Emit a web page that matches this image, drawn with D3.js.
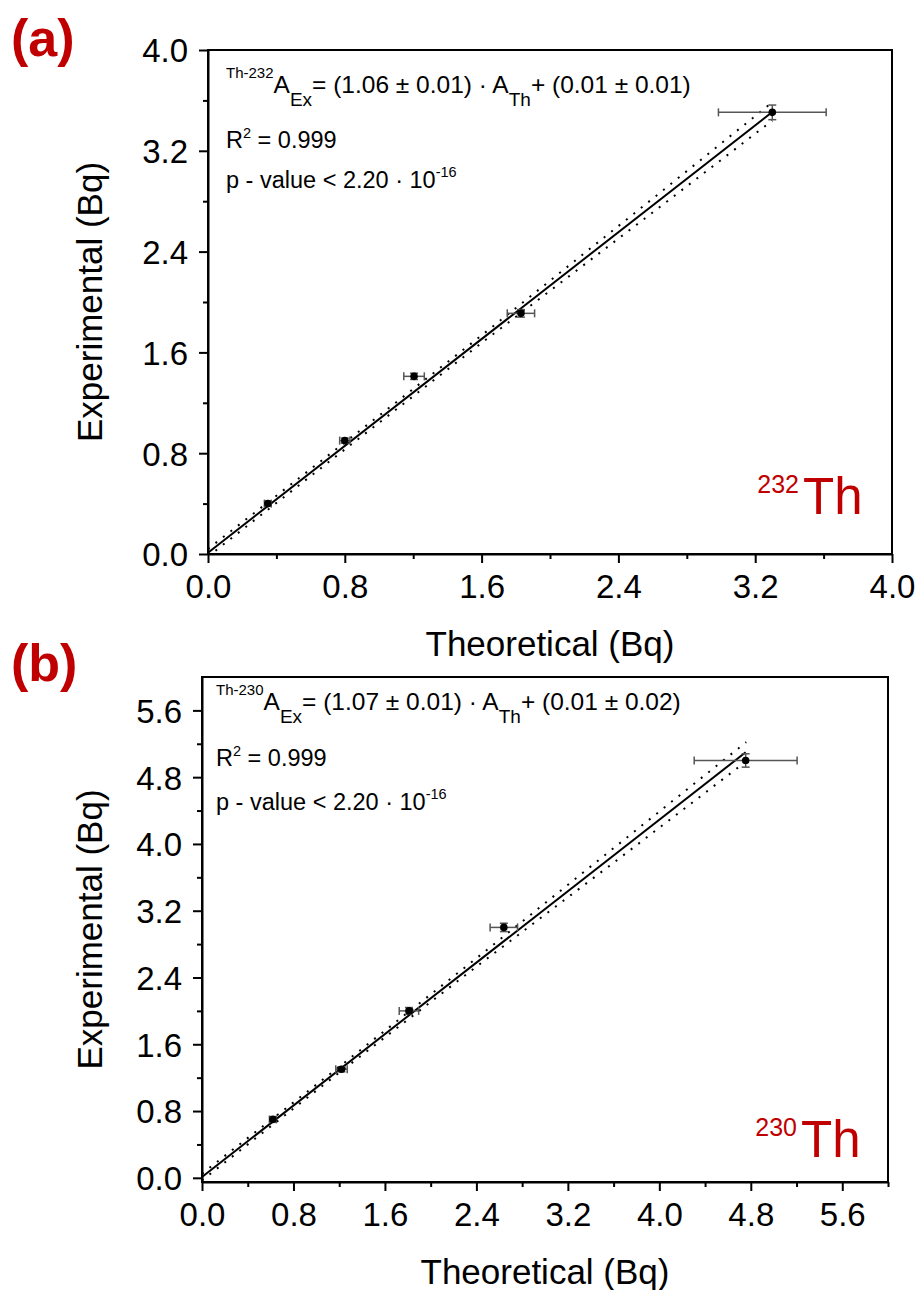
<!DOCTYPE html>
<html>
<head>
<meta charset="utf-8">
<script src="https://cdn.jsdelivr.net/npm/d3@7"></script>
<style>
  html, body { margin: 0; padding: 0; background: #fff; }
  svg { display: block; }
  text { font-family: "Liberation Sans", Arial, sans-serif; }
</style>
</head>
<body>
<svg id="chart" width="917" height="1290"></svg>
<script>
// ---------- Data: panel (a) 232Th ----------
const aTheoretical = [0.35, 0.80, 1.205, 1.83, 3.30];
const aExperimental = [0.40, 0.90, 1.41, 1.91, 3.505];
const aTheoErr = [0.02, 0.03, 0.06, 0.08, 0.315];
const aExpErr = [0.02, 0.02, 0.025, 0.03, 0.058];
const aFitX = [0, 3.30];
const aFitY = [0.01, 3.508];
const aBandX = [0, 0.8, 1.6, 2.6, 3.3];
const aBandUpper = [0.04, 0.885, 1.735, 2.82, 3.585];
const aBandLower = [-0.02, 0.83, 1.675, 2.71, 3.44];
const aMajorTicks = [0.0, 0.8, 1.6, 2.4, 3.2, 4.0];
const aMinorTicks = [0.4, 1.2, 2.0, 2.8, 3.6];

// ---------- Data: panel (b) 230Th ----------
const bTheoretical = [0.62, 1.22, 1.81, 2.64, 4.755];
const bExperimental = [0.70, 1.30, 2.00, 3.00, 5.00];
const bTheoErr = [0.03, 0.05, 0.085, 0.12, 0.45];
const bExpErr = [0.03, 0.03, 0.04, 0.05, 0.08];
const bFitX = [0, 4.755];
const bFitY = [0.01, 5.098];
const bBandX = [0, 1.2, 2.4, 3.6, 4.76];
const bBandUpper = [0.05, 1.33, 2.63, 3.95, 5.22];
const bBandLower = [-0.03, 1.26, 2.53, 3.775, 4.99];
const bMajorTicks = [0.0, 0.8, 1.6, 2.4, 3.2, 4.0, 4.8, 5.6];
const bMinorTicks = [0.4, 1.2, 2.0, 2.8, 3.6, 4.4, 5.2, 6.0];

const svg = d3.select("#chart");

function drawPanel(cfg) {
  const x = d3.scaleLinear().domain(cfg.xDomain).range([cfg.left, cfg.right]);
  const y = d3.scaleLinear().domain(cfg.yDomain).range([cfg.bottom, cfg.top]);
  const g = svg.append("g");

  const clipId = "clip" + cfg.id;
  g.append("clipPath").attr("id", clipId).append("rect")
    .attr("x", cfg.left).attr("y", cfg.top)
    .attr("width", cfg.right - cfg.left).attr("height", cfg.bottom - cfg.top);

  // Frame (top / right)
  g.append("rect")
    .attr("x", cfg.left).attr("y", cfg.top)
    .attr("width", cfg.right - cfg.left).attr("height", cfg.bottom - cfg.top)
    .attr("fill", "none").attr("stroke", "#000").attr("stroke-width", 2);

  // Minor ticks
  g.append("g").attr("transform", `translate(0,${cfg.bottom})`)
    .call(d3.axisBottom(x).tickValues(cfg.minor).tickSize(5).tickSizeOuter(0).tickFormat(""))
    .call(s => s.select(".domain").remove())
    .selectAll("line").attr("stroke-width", 2);
  g.append("g").attr("transform", `translate(${cfg.left},0)`)
    .call(d3.axisLeft(y).tickValues(cfg.minorY).tickSize(5).tickSizeOuter(0).tickFormat(""))
    .call(s => s.select(".domain").remove())
    .selectAll("line").attr("stroke-width", 2);

  // Major axes
  const xa = g.append("g").attr("transform", `translate(0,${cfg.bottom})`)
    .call(d3.axisBottom(x).tickValues(cfg.major).tickSize(9).tickSizeOuter(0).tickPadding(12)
      .tickFormat(d3.format(".1f")));
  const ya = g.append("g").attr("transform", `translate(${cfg.left},0)`)
    .call(d3.axisLeft(y).tickValues(cfg.majorY).tickSize(9).tickSizeOuter(0).tickPadding(11)
      .tickFormat(d3.format(".1f")));
  [xa, ya].forEach(a => {
    a.select(".domain").attr("stroke-width", 2);
    a.selectAll("line").attr("stroke-width", 2);
    a.selectAll("text").attr("font-size", 33).attr("fill", "#000")
      .attr("font-family", "'Liberation Sans', Arial, sans-serif");
  });
  ya.selectAll("text").attr("dy", "0.36em");

  // Axis titles
  g.append("text").attr("x", (cfg.left + cfg.right) / 2).attr("y", cfg.bottom + 102)
    .attr("text-anchor", "middle").attr("font-size", 35).text("Theoretical (Bq)");
  g.append("text").attr("transform", `translate(102,${(cfg.top + cfg.bottom) / 2}) rotate(-90)`)
    .attr("text-anchor", "middle").attr("font-size", 35).text("Experimental (Bq)");

  const plot = g.append("g").attr("clip-path", `url(#${clipId})`);

  // Confidence band (dotted)
  const bandLine = d3.line().x(d => x(d[0])).y(d => y(d[1]));
  [cfg.bandUpper, cfg.bandLower].forEach(arr => {
    plot.append("path")
      .datum(cfg.bandX.map((v, i) => [v, arr[i]]))
      .attr("d", bandLine)
      .attr("fill", "none").attr("stroke", "#000")
      .attr("stroke-width", 2).attr("stroke-dasharray", "2 7.5");
  });

  // Fit line
  plot.append("path")
    .datum(cfg.fitX.map((v, i) => [v, cfg.fitY[i]]))
    .attr("d", bandLine)
    .attr("fill", "none").attr("stroke", "#000").attr("stroke-width", 2);

  // Error bars
  const pts = cfg.xs.map((v, i) => ({ x: v, y: cfg.ys[i], ex: cfg.exs[i], ey: cfg.eys[i] }));
  const eb = plot.append("g").attr("stroke", "#555").attr("stroke-width", 1.5).attr("fill", "none");
  pts.forEach(p => {
    const cx = x(p.x), cy = y(p.y);
    const x0 = x(p.x - p.ex), x1 = x(p.x + p.ex);
    const y0 = y(p.y - p.ey), y1 = y(p.y + p.ey);
    eb.append("line").attr("x1", x0).attr("x2", x1).attr("y1", cy).attr("y2", cy);
    eb.append("line").attr("x1", x0).attr("x2", x0).attr("y1", cy - 4).attr("y2", cy + 4);
    eb.append("line").attr("x1", x1).attr("x2", x1).attr("y1", cy - 4).attr("y2", cy + 4);
    eb.append("line").attr("x1", cx).attr("x2", cx).attr("y1", y0).attr("y2", y1);
    eb.append("line").attr("x1", cx - 4).attr("x2", cx + 4).attr("y1", y0).attr("y2", y0);
    eb.append("line").attr("x1", cx - 4).attr("x2", cx + 4).attr("y1", y1).attr("y2", y1);
  });
  plot.selectAll("circle.pt").data(pts).enter().append("circle")
    .attr("cx", d => x(d.x)).attr("cy", d => y(d.y)).attr("r", 3.8).attr("fill", "#000");

  // Equation text
  const eq = g.append("text").attr("x", cfg.eqX).attr("y", cfg.eqY).attr("font-size", 24.5).attr("fill", "#000");
  eq.append("tspan").attr("font-size", 15).attr("dy", -15).text(cfg.isoSup);
  eq.append("tspan").attr("dy", 15).text("A");
  eq.append("tspan").attr("font-size", 19).attr("dy", 13).text("Ex");
  eq.append("tspan").attr("dy", -13).text(cfg.eqMid);
  eq.append("tspan").attr("font-size", 19).attr("dy", 13).text("Th");
  eq.append("tspan").attr("dy", -13).text(cfg.eqEnd);

  const r2 = g.append("text").attr("x", cfg.eqX).attr("y", cfg.r2Y).attr("font-size", 23.5);
  r2.append("tspan").text("R");
  r2.append("tspan").attr("font-size", 14.5).attr("dy", -10).text("2");
  r2.append("tspan").attr("dy", 10).text(" = 0.999");

  const pv = g.append("text").attr("x", cfg.eqX).attr("y", cfg.pY).attr("font-size", 23.5);
  pv.append("tspan").text("p - value < 2.20 · 10");
  pv.append("tspan").attr("font-size", 14.5).attr("dy", -11).text("-16");

  // Isotope label
  g.append("text").attr("x", cfg.isoX + 44).attr("y", cfg.isoY - 21)
    .attr("text-anchor", "end")
    .attr("font-family", "Lato, 'Open Sans', sans-serif").attr("font-size", 25)
    .attr("fill", "#c00000").text(cfg.isoMass);
  g.append("text").attr("x", cfg.isoX + 48).attr("y", cfg.isoY)
    .attr("font-family", "Lato, 'Open Sans', sans-serif").attr("font-size", 51)
    .attr("fill", "#c00000").text("Th");

  // Panel letter
  g.append("text").attr("x", cfg.letterX).attr("y", cfg.letterY)
    .attr("font-family", "Lato, 'Open Sans', sans-serif").attr("font-weight", "bold")
    .attr("font-size", 52).attr("fill", "#c00000").text(cfg.letter);
}

drawPanel({
  id: "a", letter: "(a)", letterX: 11, letterY: 56,
  left: 208, right: 892, top: 50, bottom: 554,
  xDomain: [0, 4], yDomain: [0, 4],
  major: aMajorTicks, minor: aMinorTicks, majorY: aMajorTicks, minorY: aMinorTicks,
  xs: aTheoretical, ys: aExperimental, exs: aTheoErr, eys: aExpErr,
  fitX: aFitX, fitY: aFitY, bandX: aBandX, bandUpper: aBandUpper, bandLower: aBandLower,
  eqX: 226, eqY: 93, r2Y: 148, pY: 188,
  isoSup: "Th-232", eqMid: "= (1.06 ± 0.01) · A", eqEnd: "+ (0.01 ± 0.01)",
  isoX: 755, isoY: 514, isoMass: "232"
});

drawPanel({
  id: "b", letter: "(b)", letterX: 11, letterY: 681,
  left: 202, right: 888, top: 677, bottom: 1182,
  xDomain: [0, 6], yDomain: [-0.05, 6],
  major: bMajorTicks, minor: bMinorTicks, majorY: bMajorTicks, minorY: bMinorTicks.slice(0, 7),
  xs: bTheoretical, ys: bExperimental, exs: bTheoErr, eys: bExpErr,
  fitX: bFitX, fitY: bFitY, bandX: bBandX, bandUpper: bBandUpper, bandLower: bBandLower,
  eqX: 216, eqY: 710, r2Y: 766, pY: 810,
  isoSup: "Th-230", eqMid: "= (1.07 ± 0.01) · A", eqEnd: "+ (0.01 ± 0.02)",
  isoX: 753, isoY: 1157, isoMass: "230"
});
</script>
</body>
</html>
